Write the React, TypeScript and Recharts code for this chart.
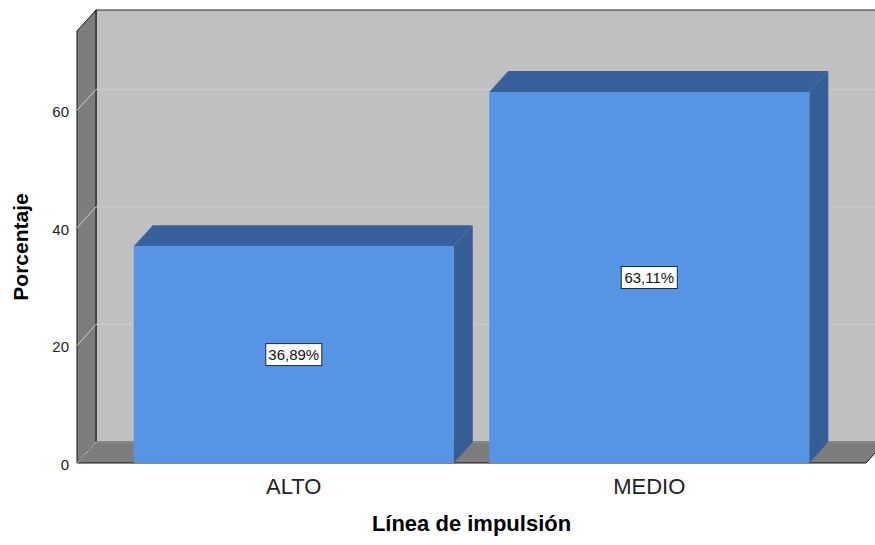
import { BarChart, Bar, XAxis, YAxis, ReferenceArea, ReferenceLine, LabelList } from 'recharts';

const categories = ['ALTO', 'MEDIO'];
const percentages = [36.89, 63.11];
const yTicks = [0, 20, 40, 60];
const yMax = 73.5;

const data = categories.map((name, i) => ({ name, value: percentages[i] }));

// depth of the 3D box (px) and the category padding of the x axis
const DX = 19;
const DY = 21;
const X_PAD = 39;
const FONT = '"Liberation Sans", Arial, sans-serif';

// back wall, left wall and floor; the area rect comes in without the axis padding
function Walls(props: any) {
  const { x, y, width, height } = props;
  const left = x - X_PAD;
  const right = x + width + X_PAD;
  const bottom = y + height;
  return (
    <g>
      <polygon
        points={`${left + DX},${y - DY} ${right + DX},${y - DY} ${right + DX},${bottom - DY} ${left + DX},${bottom - DY}`}
        fill="#c0c0c0"
        stroke="#2b2b2b"
        strokeWidth={1}
      />
      <polygon
        points={`${left},${y} ${left + DX},${y - DY} ${left + DX},${bottom - DY} ${left},${bottom}`}
        fill="#7d7d7d"
        stroke="#111"
        strokeWidth={1}
      />
      <polygon
        points={`${left},${bottom} ${left + DX},${bottom - DY} ${right + DX},${bottom - DY} ${right},${bottom}`}
        fill="#7d7d7d"
        stroke="#111"
        strokeWidth={1}
      />
    </g>
  );
}

// reference lines span the full plot width, so x1/x2 are already the wall edges
function GridLine(props: any) {
  const { x1, y1, x2 } = props;
  return (
    <g>
      <line x1={x1} y1={y1} x2={x1 + DX} y2={y1 - DY} stroke="#cfcfcf" strokeWidth={1} />
      <line x1={x1 + DX} y1={y1 - DY} x2={x2 + DX} y2={y1 - DY} stroke="#cccccc" strokeWidth={1} />
    </g>
  );
}

function Bar3D(props: any) {
  const { x, y, width, height } = props;
  const r = x + width;
  const b = y + height;
  return (
    <g>
      <polygon points={`${x},${y} ${x + DX},${y - DY} ${r + DX},${y - DY} ${r},${y}`} fill="#37619c" />
      <polygon points={`${r},${y} ${r + DX},${y - DY} ${r + DX},${b - DY} ${r},${b}`} fill="#355d96" />
      <rect x={x} y={y} width={width} height={height} fill="#5694e4" />
    </g>
  );
}

function ValueBox(props: any) {
  const { x, y, width, height, value } = props;
  const cx = x + width / 2;
  const cy = y + height / 2;
  const text = Number(value).toFixed(2).replace('.', ',') + '%';
  return (
    <g>
      <rect x={cx - 28} y={cy - 11} width={56} height={22} fill="#ffffff" stroke="#1c2a40" strokeWidth={1} />
      <text x={cx} y={cy + 5} textAnchor="middle" fontSize={15} fontFamily={FONT} fill="#111">
        {text}
      </text>
    </g>
  );
}

function CategoryTick({ x, y, payload }: any) {
  return (
    <text x={x} y={y + 31} textAnchor="middle" fontSize={22} fontFamily={FONT} fill="#222">
      {payload.value}
    </text>
  );
}

function ValueTick({ x, y, payload }: any) {
  return (
    <text x={x} y={y + 7} textAnchor="end" fontSize={15} fontFamily={FONT} fill="#222">
      {payload.value}
    </text>
  );
}

function YTitle({ viewBox }: any) {
  const cx = 20;
  const cy = viewBox.y + viewBox.height / 2;
  return (
    <text
      x={cx}
      y={cy}
      transform={`rotate(-90 ${cx} ${cy})`}
      textAnchor="middle"
      dominantBaseline="central"
      fontSize={21}
      fontWeight="bold"
      fontFamily={FONT}
      fill="#000"
    >
      Porcentaje
    </text>
  );
}

function XTitle({ viewBox }: any) {
  const cx = viewBox.x + viewBox.width / 2;
  return (
    <text x={cx} y={531} textAnchor="middle" fontSize={22} fontWeight="bold" fontFamily={FONT} fill="#000">
      Línea de impulsión
    </text>
  );
}

export default function App() {
  return (
    <div style={{ position: 'absolute', left: 0, top: 0, width: 875, height: 545, background: '#fff' }}>
      <BarChart
        width={875}
        height={545}
        data={data}
        margin={{ top: 31, right: 9, bottom: 0, left: 0 }}
        barCategoryGap="5%"
      >
        <XAxis
          dataKey="name"
          height={82}
          padding={{ left: X_PAD, right: X_PAD }}
          axisLine={false}
          tickLine={false}
          tickSize={0}
          tickMargin={0}
          tick={<CategoryTick />}
          label={<XTitle />}
        />
        <YAxis
          width={77}
          domain={[0, yMax]}
          ticks={yTicks}
          axisLine={false}
          tickLine={false}
          tick={<ValueTick />}
          label={<YTitle />}
        />
        <ReferenceArea y1={0} y2={yMax} shape={<Walls />} zIndex={-90} />
        {yTicks.map((v) => (
          <ReferenceLine key={v} y={v} shape={<GridLine />} zIndex={-80} />
        ))}
        <Bar dataKey="value" shape={<Bar3D />} isAnimationActive={false}>
          <LabelList dataKey="value" content={<ValueBox />} />
        </Bar>
      </BarChart>
    </div>
  );
}
